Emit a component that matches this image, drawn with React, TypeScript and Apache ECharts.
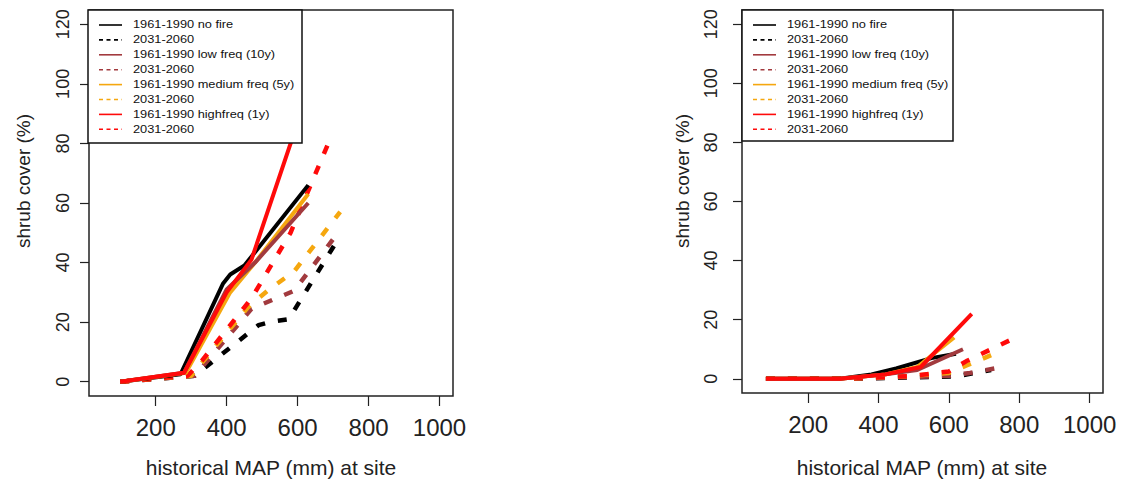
import React, { useEffect, useRef } from "react";
import * as echarts from "echarts";

// ---------- data (historical MAP in mm, shrub cover in %) ----------
// Left panel
const leftNoFire1961 = [[100, 0], [270, 2.5], [390, 33], [410, 36], [450, 39], [630, 66]];
const leftNoFire2031 = [[100, 0], [310, 2], [490, 19], [520, 20], [575, 21], [720, 49]];
const leftLow1961 = [[100, 0], [280, 3], [400, 31], [480, 40], [630, 60]];
const leftLow2031 = [[100, 0], [310, 2], [470, 24.5], [590, 30.5], [720, 51]];
const leftMed1961 = [[100, 0], [285, 3], [410, 30], [480, 40], [630, 63]];
const leftMed2031 = [[100, 0], [300, 2], [460, 25], [520, 31], [590, 37], [720, 57]];
const leftHigh1961 = [[100, 0], [280, 3], [400, 30], [470, 41], [600, 87]];
const leftHigh2031 = [[100, 0], [290, 2], [330, 7], [470, 28], [580, 50], [690, 81]];

// Right panel
const rightNoFire1961 = [[80, 0], [290, 0], [380, 1.5], [450, 3.5], [550, 7], [620, 8.5]];
const rightNoFire2031 = [[80, 0], [300, 0], [620, 0.8], [720, 3]];
const rightLow1961 = [[80, 0], [290, 0], [420, 1.5], [510, 3], [640, 10]];
const rightLow2031 = [[80, 0], [300, 0], [600, 1], [660, 2], [730, 3.5]];
const rightMed1961 = [[80, 0], [290, 0], [420, 1.5], [510, 4], [615, 14]];
const rightMed2031 = [[80, 0], [300, 0], [500, 1], [600, 2], [650, 4.5], [720, 8]];
const rightHigh1961 = [[80, 0], [290, 0], [420, 1.5], [520, 4], [665, 22]];
const rightHigh2031 = [[80, 0], [300, 0], [500, 1], [600, 2.5], [650, 6], [790, 14]];

const xTickValues = [200, 400, 600, 800, 1000];
const yTickValues = [0, 20, 40, 60, 80, 100, 120];

const legendLabels = [
  "1961-1990 no fire",
  "2031-2060",
  "1961-1990 low freq (10y)",
  "2031-2060",
  "1961-1990 medium freq (5y)",
  "2031-2060",
  "1961-1990 highfreq (1y)",
  "2031-2060",
];

const xTitle = "historical MAP (mm) at site";
const yTitle = "shrub cover (%)";

// ---------- styles ----------
const C_BLACK = "#000000";
const C_BROWN = "#a23a3e";
const C_ORANGE = "#f5a70f";
const C_RED = "#ff0a0a";
const legendColors = [C_BLACK, C_BLACK, C_BROWN, C_BROWN, C_ORANGE, C_ORANGE, C_RED, C_RED];
const FONT = "Liberation Sans, Arial, sans-serif";
const TEXT = "#222";
const DASH = [9, 13];

function lineSeries(data: number[][], color: string, dashed: boolean, gi: number) {
  return {
    type: "line",
    xAxisIndex: gi,
    yAxisIndex: gi,
    data,
    showSymbol: false,
    symbol: "none",
    silent: true,
    z: dashed ? 2 : 3,
    lineStyle: {
      color,
      width: dashed ? 4.5 : 4,
      type: dashed ? DASH : "solid",
      cap: "butt",
      join: "round",
    },
  };
}

function xAxis(gi: number) {
  return {
    gridIndex: gi,
    type: "value",
    min: 12,
    max: 1038,
    axisLine: { show: false, onZero: false },
    axisTick: { show: true, length: 10, customValues: xTickValues, lineStyle: { color: TEXT, width: 1.2 } },
    axisLabel: {
      customValues: xTickValues,
      formatter: (v: number) => String(v),
      fontSize: 24,
      margin: 19,
      color: TEXT,
      fontFamily: FONT,
    },
    splitLine: { show: false },
  };
}

function yAxis(gi: number, margin: number) {
  return {
    gridIndex: gi,
    type: "value",
    min: -4.8,
    max: 124.8,
    axisLine: { show: false, onZero: false },
    axisTick: { show: true, length: 9, customValues: yTickValues, lineStyle: { color: TEXT, width: 1.2 } },
    axisLabel: {
      customValues: yTickValues,
      formatter: (v: number) => String(v),
      fontSize: 18,
      margin,
      rotate: 90,
      color: TEXT,
      fontFamily: FONT,
    },
    splitLine: { show: false },
  };
}

function legendGraphic(x0: number, y0: number, w: number, h: number) {
  const children: any[] = [
    {
      type: "rect",
      shape: { x: x0, y: y0, width: w, height: h },
      style: { fill: "#fff", stroke: "#111", lineWidth: 1.5 },
      z: 100,
    },
  ];
  legendLabels.forEach((label, i) => {
    const yy = y0 + 15 + i * 14.9;
    const dashed = i % 2 === 1;
    children.push({
      type: "line",
      shape: { x1: x0 + 11, y1: yy, x2: x0 + 34, y2: yy },
      style: {
        stroke: legendColors[i],
        lineWidth: 1.6,
        lineDash: dashed ? [4, 3.5] : null,
      },
      z: 101,
    });
    children.push({
      type: "text",
      x: x0 + 45,
      y: yy,
      scaleX: 1.28,
      style: {
        text: label,
        fontSize: 10,
        fontFamily: FONT,
        fill: "#111",
        textAlign: "left",
        textVerticalAlign: "middle",
      },
      z: 101,
    });
  });
  return children;
}

function titleGraphic(cx: number, cy: number, text: string, fontSize: number, rot: number) {
  return {
    type: "text",
    x: cx,
    y: cy,
    rotation: rot,
    style: {
      text,
      fontSize,
      fontFamily: FONT,
      fill: TEXT,
      textAlign: "center",
      textVerticalAlign: "middle",
    },
    z: 100,
  };
}

export default function App() {
  const ref = useRef<HTMLDivElement>(null);
  useEffect(() => {
    if (!ref.current) return;
    const chart = echarts.init(ref.current, null, { renderer: "svg" });
    const option: any = {
      animation: false,
      backgroundColor: "#ffffff",
      grid: [
        { left: 89, top: 10, width: 364, height: 386, show: true, borderColor: "#222", borderWidth: 1.5, backgroundColor: "transparent" },
        { left: 742, top: 10, width: 361, height: 383, show: true, borderColor: "#222", borderWidth: 1.5, backgroundColor: "transparent" },
      ],
      xAxis: [xAxis(0), xAxis(1)],
      yAxis: [yAxis(0, 17), yAxis(1, 22)],
      series: [
        lineSeries(leftNoFire2031, C_BLACK, true, 0),
        lineSeries(leftLow2031, C_BROWN, true, 0),
        lineSeries(leftMed2031, C_ORANGE, true, 0),
        lineSeries(leftHigh2031, C_RED, true, 0),
        lineSeries(leftNoFire1961, C_BLACK, false, 0),
        lineSeries(leftMed1961, C_ORANGE, false, 0),
        lineSeries(leftLow1961, C_BROWN, false, 0),
        lineSeries(leftHigh1961, C_RED, false, 0),
        lineSeries(rightNoFire2031, C_BLACK, true, 1),
        lineSeries(rightLow2031, C_BROWN, true, 1),
        lineSeries(rightMed2031, C_ORANGE, true, 1),
        lineSeries(rightHigh2031, C_RED, true, 1),
        lineSeries(rightNoFire1961, C_BLACK, false, 1),
        lineSeries(rightMed1961, C_ORANGE, false, 1),
        lineSeries(rightLow1961, C_BROWN, false, 1),
        lineSeries(rightHigh1961, C_RED, false, 1),
      ],
      graphic: [
        ...legendGraphic(88, 10, 214, 133),
        ...legendGraphic(742, 10, 211, 131),
        titleGraphic(271, 467, xTitle, 21, 0),
        titleGraphic(922, 467, xTitle, 21, 0),
        titleGraphic(23, 181, yTitle, 19, Math.PI / 2),
        titleGraphic(682, 181, yTitle, 19, Math.PI / 2),
      ],
    };
    chart.setOption(option);
    return () => chart.dispose();
  }, []);
  return (
    <div
      ref={ref}
      style={{ position: "absolute", left: 0, top: 0, width: 1121, height: 488, background: "#fff" }}
    />
  );
}
